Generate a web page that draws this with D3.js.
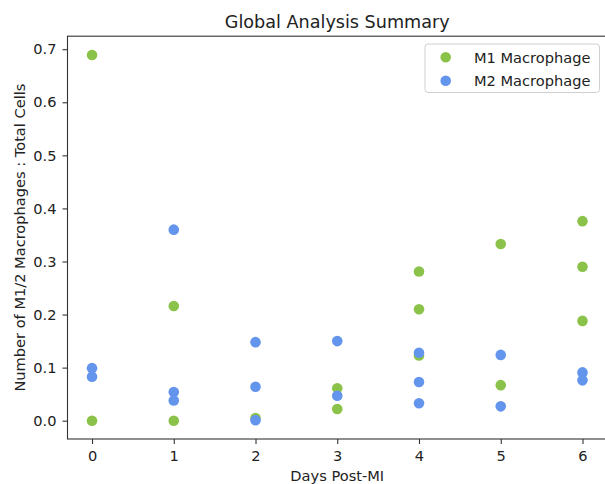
<!DOCTYPE html>
<html>
<head>
<meta charset="utf-8">
<script src="https://cdn.jsdelivr.net/npm/d3@7"></script>
<style>
  html, body { margin: 0; padding: 0; background: #fff; overflow: hidden; }
  text { font-family: "DejaVu Sans", sans-serif; fill: #222; }
</style>
</head>
<body>
<svg id="chart" width="605" height="484"></svg>
<script>
const title = "Global Analysis Summary";
const xLabel = "Days Post-MI";
const yLabel = "Number of M1/2 Macrophages : Total Cells";
const seriesNames = ["M1 Macrophage", "M2 Macrophage"];
const seriesColors = ["#8BC34A", "#6495ED"];

const m1Days =   [0,     0,   1,     1,   2,     3,     3,     4,     4,     4,     5,     5,     6,     6,     6];
const m1Values = [0.689, 0.0, 0.216, 0.0, 0.005, 0.061, 0.022, 0.281, 0.210, 0.123, 0.333, 0.067, 0.376, 0.290, 0.188];

const m2Days =   [0,     0,     1,     1,     1,     2,     2,     2,     3,     3,     4,     4,     4,     5,     5,     6,     6];
const m2Values = [0.099, 0.083, 0.360, 0.054, 0.038, 0.148, 0.064, 0.001, 0.150, 0.047, 0.128, 0.073, 0.033, 0.124, 0.027, 0.091, 0.076];

const xTicks = [0, 1, 2, 3, 4, 5, 6];
const yTicks = [0.0, 0.1, 0.2, 0.3, 0.4, 0.5, 0.6, 0.7];

const svg = d3.select("#chart");
const mLeft = 67.5, mRight = 607, mTop = 36.2, mBottom = 439;
const fs = 14.6;

const x = d3.scaleLinear().domain([-0.3, 6.3]).range([mLeft, mRight]);
const y = d3.scaleLinear().domain([-0.0345, 0.7245]).range([mBottom, mTop]);

const axisColor = "#333";

// y axis
const yAxis = svg.append("g").attr("transform", `translate(${mLeft},0)`)
  .call(d3.axisLeft(y).tickValues(yTicks).tickFormat(d3.format(".1f")).tickSize(5).tickPadding(6));
yAxis.select(".domain").remove();
yAxis.selectAll("line").attr("stroke", axisColor).attr("stroke-width", 1.1);
yAxis.selectAll("text").attr("font-size", fs).attr("font-family", "DejaVu Sans").attr("fill", "#222");

// x axis
const xAxis = svg.append("g").attr("transform", `translate(0,${mBottom})`)
  .call(d3.axisBottom(x).tickValues(xTicks).tickFormat(d3.format("d")).tickSize(5).tickPadding(7));
xAxis.select(".domain").remove();
xAxis.selectAll("line").attr("stroke", axisColor).attr("stroke-width", 1.1);
xAxis.selectAll("text").attr("font-size", fs).attr("font-family", "DejaVu Sans").attr("fill", "#222");

// frame (spines)
svg.append("rect").attr("x", mLeft).attr("y", mTop).attr("width", mRight - mLeft).attr("height", mBottom - mTop)
  .attr("fill", "none").attr("stroke", axisColor).attr("stroke-width", 1.1);

// points
const m1 = m1Days.map((d, i) => ({ x: d, y: m1Values[i] }));
const m2 = m2Days.map((d, i) => ({ x: d, y: m2Values[i] }));
[m1, m2].forEach((data, si) => {
  svg.append("g").selectAll("circle").data(data).join("circle")
    .attr("cx", d => x(d.x)).attr("cy", d => y(d.y)).attr("r", 5.3)
    .attr("fill", seriesColors[si]);
});

// title
svg.append("text").attr("x", (mLeft + mRight) / 2).attr("y", 28).attr("text-anchor", "middle")
  .attr("font-size", 17.6).text(title);

// axis labels
svg.append("text").attr("x", (mLeft + mRight) / 2).attr("y", 481).attr("text-anchor", "middle")
  .attr("font-size", fs).text(xLabel);
svg.append("text").attr("transform", `translate(25,${(mTop + mBottom) / 2}) rotate(-90)`)
  .attr("text-anchor", "middle").attr("font-size", fs).text(yLabel);

// legend
const lg = svg.append("g");
lg.append("rect").attr("x", 425).attr("y", 44).attr("width", 174.5).attr("height", 48.5).attr("rx", 3)
  .attr("fill", "#fff").attr("fill-opacity", 0.8).attr("stroke", "#d0d0d0").attr("stroke-width", 1);
seriesNames.forEach((name, i) => {
  const cy = 57.3 + i * 23.4;
  lg.append("circle").attr("cx", 445.7).attr("cy", cy).attr("r", 5.3).attr("fill", seriesColors[i]);
  lg.append("text").attr("x", 474).attr("y", cy).attr("dominant-baseline", "central")
    .attr("font-size", fs).text(name);
});
</script>
</body>
</html>
